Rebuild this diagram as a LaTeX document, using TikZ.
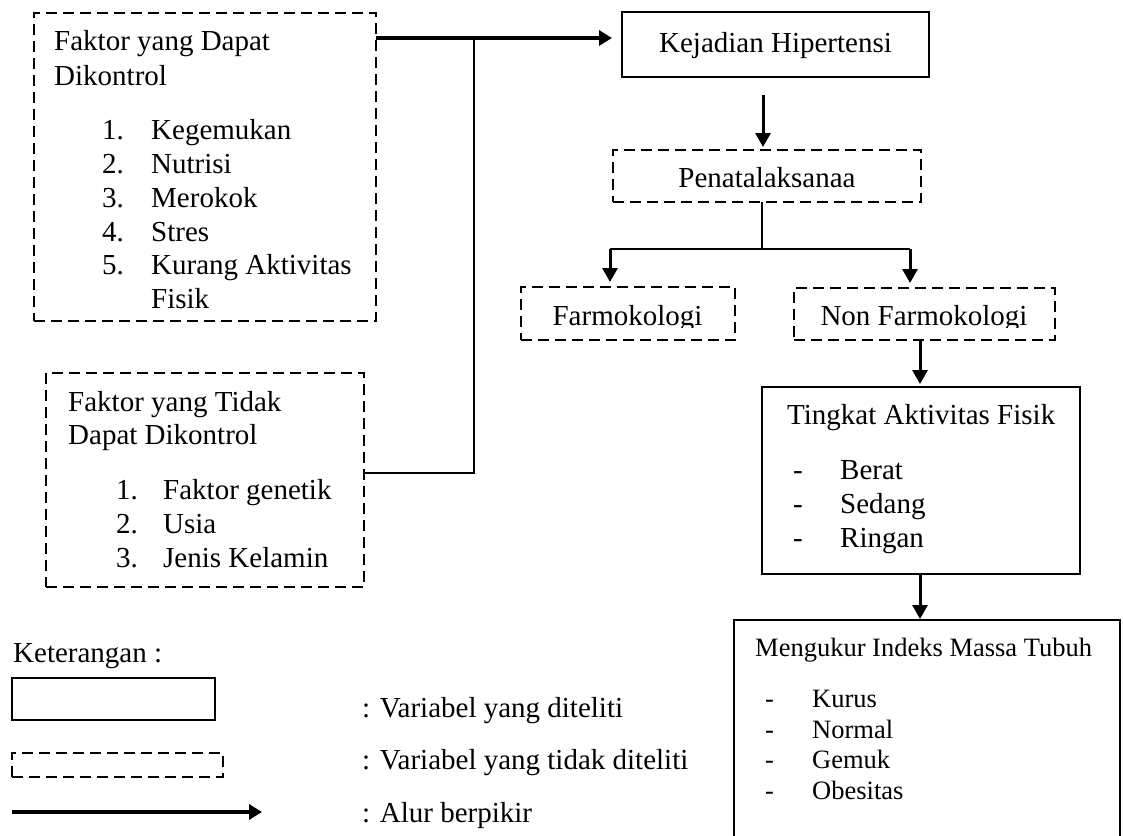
\documentclass[tikz,border=0pt]{standalone}
\usepackage{fontspec}
\setmainfont{Liberation Serif}
\usetikzlibrary{arrows.meta}
\begin{document}
\begin{tikzpicture}[x=1pt,y=-1pt,
  sbox/.style={draw, line width=2.6pt, inner sep=0pt, outer sep=0pt},
  dbox/.style={draw, line width=2.3pt, dash pattern=on 11pt off 6pt, inner sep=0pt, outer sep=0pt},
  txt/.style={anchor=base west, inner sep=0pt, font=\fontsize{29}{34}\selectfont},
  ctxt/.style={anchor=base, inner sep=0pt, font=\fontsize{29}{34}\selectfont},
  stxt/.style={anchor=base west, inner sep=0pt, font=\fontsize{26.5}{30.5}\selectfont},
  thinline/.style={line width=1.3pt},
  flow/.style={line width=3pt, -{Triangle[length=14pt,width=15pt]}},
  bigflow/.style={line width=4pt, -{Triangle[length=13pt,width=15pt]}},
]
\useasboundingbox (0,0) rectangle (1123,835);
\clip (0,0) rectangle (1123,835);

% ---------- boxes ----------
\node[dbox, minimum width=342pt, minimum height=308pt] (f1) at (205,167) {};
\node[dbox, minimum width=318pt, minimum height=214pt] (f2) at (205,480) {};
\node[sbox, minimum width=307pt, minimum height=65pt] (kej) at (775.5,44.5) {};
\node[dbox, minimum width=308pt, minimum height=52pt] (pen) at (767,176) {};
\node[dbox, minimum width=214pt, minimum height=53pt] (farm) at (628,313.5) {};
\node[dbox, minimum width=261pt, minimum height=52pt] (nonf) at (924.5,314) {};
\node[sbox, minimum width=318pt, minimum height=187pt] (ting) at (921,480.5) {};
\node[sbox, minimum width=386pt, minimum height=240pt] (imt) at (927,740) {};

% ---------- texts in box 1 ----------
\node[txt] (f1a) at (54,50) {Faktor yang Dapat};
\node[txt] (f1b) at (54,85) {Dikontrol};
\node[txt] (n11) at (102,139) {1.};
\node[txt] (i11) at (151,139) {Kegemukan};
\node[txt] (n12) at (102,173) {2.};
\node[txt] (i12) at (151,173) {Nutrisi};
\node[txt] (n13) at (102,207) {3.};
\node[txt] (i13) at (151,207) {Merokok};
\node[txt] (n14) at (102,241) {4.};
\node[txt] (i14) at (151,241) {Stres};
\node[txt] (n15) at (102,274) {5.};
\node[txt] (i15) at (151,274) {Kurang Aktivitas};
\node[txt] (i16) at (151,308) {Fisik};

% ---------- texts in box 2 ----------
\node[txt] (f2a) at (68,411) {Faktor yang Tidak};
\node[txt] (f2b) at (68,444) {Dapat Dikontrol};
\node[txt] (n21) at (116,499) {1.};
\node[txt] (i21) at (163,499) {Faktor genetik};
\node[txt] (n22) at (116,533) {2.};
\node[txt] (i22) at (163,533) {Usia};
\node[txt] (n23) at (116,567) {3.};
\node[txt] (i23) at (163,567) {Jenis Kelamin};

% ---------- right column texts ----------
\node[ctxt] (kejt) at (775.5,52) {Kejadian Hipertensi};
\node[ctxt] (pent) at (767,187) {Penatalaksanaa};
\begin{scope}
  \clip (500,280) rectangle (1100,327.5);
  \node[ctxt] (farmt) at (627.5,325) {Farmokologi};
  \node[ctxt] (nonft) at (924,325) {Non Farmokologi};
\end{scope}

\node[txt] (tingt) at (787,424) {Tingkat Aktivitas Fisik};
\node[txt] (d31) at (793,479) {-};
\node[txt] (i31) at (840,479) {Berat};
\node[txt] (d32) at (793,513) {-};
\node[txt] (i32) at (840,513) {Sedang};
\node[txt] (d33) at (793,547) {-};
\node[txt] (i33) at (840,547) {Ringan};

\node[stxt] (imtt) at (755,656) {Mengukur Indeks Massa Tubuh};
\node[stxt] (d41) at (765,707) {-};
\node[stxt] (i41) at (812,707) {Kurus};
\node[stxt] (d42) at (765,738) {-};
\node[stxt] (i42) at (812,738) {Normal};
\node[stxt] (d43) at (765,768) {-};
\node[stxt] (i43) at (812,768) {Gemuk};
\node[stxt] (d44) at (765,799) {-};
\node[stxt] (i44) at (812,799) {Obesitas};

% ---------- connectors ----------
\coordinate (ytop) at (0,38);
\coordinate (junc) at (474,38);
\coordinate (ybot) at (0,473);
\coordinate (xk) at (763,0);
\coordinate (xp) at (762,0);
\coordinate (ybr) at (0,249);
\coordinate (bl) at (610,249);
\coordinate (br) at (910,249);
\coordinate (xt) at (920,0);

\draw[bigflow, shorten >=10pt] (f1.east |- ytop) -- (kej.west |- ytop);
\draw[thinline] (f2.east |- ybot) -| (junc);
\draw[flow, shorten <=18pt, shorten >=3pt] (kej.south -| xk) -- (pen.north -| xk);
\draw[thinline] (pen.south -| xp) -- (xp |- ybr);
\draw[thinline] (bl) -- (br);
\draw[flow, shorten >=5pt] (bl) -- (farm.north -| bl);
\draw[flow, shorten >=5pt] (br) -- (nonf.north -| br);
\draw[flow, shorten >=3pt] (nonf.south -| xt) -- (ting.north -| xt);
\draw[flow, shorten >=1pt] (ting.south -| xt) -- (imt.north -| xt);

% ---------- legend ----------
\node[txt] (ket) at (13,662) {Keterangan :};
\node[sbox, minimum width=203pt, minimum height=42pt] (lsolid) at (113.5,699) {};
\node[dbox, minimum width=211pt, minimum height=24pt] (ldash) at (117.5,765) {};
\coordinate (la) at (12,812);
\coordinate (lb) at (262,812);
\draw[bigflow] (la) -- (lb);
\node[txt] (lt1) at (362,717) {: Variabel yang diteliti};
\node[txt] (lt2) at (362,769) {: Variabel yang tidak diteliti};
\node[txt] (lt3) at (362,822) {: Alur berpikir};
\end{tikzpicture}
\end{document}
